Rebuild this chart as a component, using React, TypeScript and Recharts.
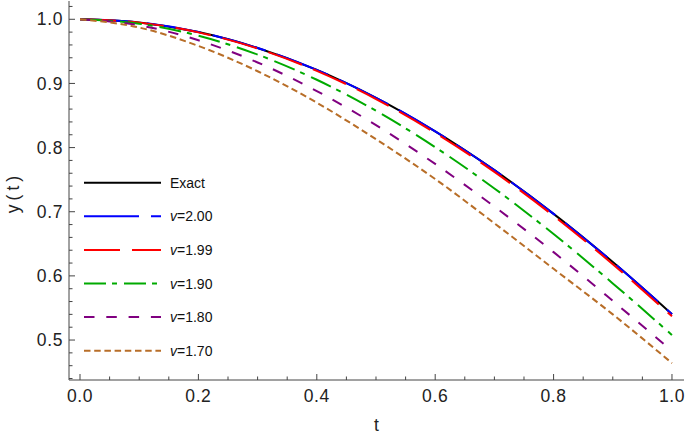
import React from 'react';
import { LineChart, Line, XAxis, YAxis, Legend } from 'recharts';

const tValues = [0, 0.1, 0.2, 0.3, 0.4, 0.5, 0.6, 0.7, 0.8, 0.9, 1.0];
const exactValues = [1, 0.995, 0.9801, 0.9553, 0.9211, 0.8776, 0.8253, 0.7648, 0.6967, 0.6216, 0.5403];
const v200Values = [1, 0.995, 0.9801, 0.9553, 0.9211, 0.8776, 0.8253, 0.7648, 0.6967, 0.6216, 0.5403];
const v199Values = [1, 0.9948, 0.9796, 0.9544, 0.9196, 0.8757, 0.823, 0.7621, 0.6936, 0.6183, 0.5369];
const v190Values = [1, 0.9931, 0.9744, 0.945, 0.9057, 0.8574, 0.8006, 0.7363, 0.6652, 0.5883, 0.5078];
const v180Values = [1, 0.9906, 0.9673, 0.9327, 0.8881, 0.835, 0.7745, 0.708, 0.637, 0.561, 0.483];
const v170Values = [1, 0.9871, 0.9585, 0.919, 0.87, 0.813, 0.751, 0.682, 0.611, 0.54, 0.464];

const seriesKeys = ['exact', 'v200', 'v199', 'v190', 'v180', 'v170'];
const seriesLabels = ['Exact', '2.00', '1.99', '1.90', '1.80', '1.70'];
const seriesColors = ['#000000', '#0000ff', '#ff0000', '#00aa00', '#800080', '#b86e28'];
const seriesDashes = ['', '55 12', '36 12', '22 6 5 7', '10.5 11.8', '6.5 3.7'];

const xTicks = [0, 0.05, 0.1, 0.15, 0.2, 0.25, 0.3, 0.35, 0.4, 0.45, 0.5, 0.55, 0.6, 0.65, 0.7, 0.75, 0.8, 0.85, 0.9, 0.95, 1.0];
const yTicks = [0.44, 0.46, 0.48, 0.5, 0.52, 0.54, 0.56, 0.58, 0.6, 0.62, 0.64, 0.66, 0.68, 0.7, 0.72, 0.74, 0.76, 0.78, 0.8, 0.82, 0.84, 0.86, 0.88, 0.9, 0.92, 0.94, 0.96, 0.98, 1.0, 1.02];

const data = tValues.map((t, i) => ({
  t,
  exact: exactValues[i],
  v200: v200Values[i],
  v199: v199Values[i],
  v190: v190Values[i],
  v180: v180Values[i],
  v170: v170Values[i],
}));

const FONT = '"Liberation Sans", Arial, sans-serif';
const FRAME = '#444444';
const LABEL = '#222222';

const isMajor = (v: number, step: number) => Math.abs(v / step - Math.round(v / step)) < 1e-6;

const BottomTick = (props: any) => {
  const { x, y, payload } = props;
  const v = payload.value;
  const major = isMajor(v, 0.2);
  return (
    <g>
      <line x1={x} x2={x} y1={y} y2={y - (major ? 6 : 3.5)} stroke={FRAME} strokeWidth={1} />
      {major && (
        <text x={x} y={y + 21.5} textAnchor="middle" fontFamily={FONT} fontSize={17.5} letterSpacing={0.6} fill={LABEL}>
          {v.toFixed(1)}
        </text>
      )}
    </g>
  );
};

const TopTick = (props: any) => {
  const { x, y, payload } = props;
  const major = isMajor(payload.value, 0.2);
  return <line x1={x} x2={x} y1={y} y2={y + (major ? 6 : 3.5)} stroke={FRAME} strokeWidth={1} />;
};

const LeftTick = (props: any) => {
  const { x, y, payload } = props;
  const v = payload.value;
  const major = isMajor(v, 0.1);
  return (
    <g>
      <line x1={x} x2={x + (major ? 6 : 3.5)} y1={y} y2={y} stroke={FRAME} strokeWidth={1} />
      {major && (
        <text x={x - 6} y={y + 6.2} textAnchor="end" fontFamily={FONT} fontSize={17.5} letterSpacing={0.6} fill={LABEL}>
          {v.toFixed(1)}
        </text>
      )}
    </g>
  );
};

const RightTick = (props: any) => {
  const { x, y, payload } = props;
  const major = isMajor(payload.value, 0.1);
  return <line x1={x} x2={x - (major ? 6 : 3.5)} y1={y} y2={y} stroke={FRAME} strokeWidth={1} />;
};

const LegendContent = () => (
  <svg width={685} height={437} style={{ position: 'absolute', left: 0, top: 0, overflow: 'visible' }}>
    {seriesKeys.map((k, i) => {
      const cy = 182.7 + i * 33.6;
      return (
        <g key={k}>
          <line
            x1={84}
            x2={161}
            y1={cy}
            y2={cy}
            stroke={seriesColors[i]}
            strokeWidth={2}
            strokeDasharray={seriesDashes[i] || undefined}
          />
          <text x={170} y={cy + 5} fontFamily={FONT} fontSize={14} fill="#111">
            {i === 0 ? (
              seriesLabels[i]
            ) : (
              <>
                <tspan fontStyle="italic">v</tspan>={seriesLabels[i]}
              </>
            )}
          </text>
        </g>
      );
    })}
  </svg>
);

export default function App() {
  return (
    <div style={{ position: 'absolute', left: 0, top: 0, width: 685, height: 437, background: '#fff' }}>
      <LineChart width={685} height={437} data={data} margin={{ top: 1, right: 1, bottom: 0, left: 0 }}>
        <XAxis
          xAxisId="bottom"
          dataKey="t"
          type="number"
          domain={[-0.0186, 1.0203]}
          allowDataOverflow
          ticks={xTicks}
          interval={0}
          tickSize={0}
          tickMargin={0}
          tickLine={false}
          axisLine={{ stroke: FRAME, strokeWidth: 1 }}
          tick={<BottomTick />}
          height={57}
          label={{
            content: (p: any) => {
              const vb = p.viewBox || {};
              return (
                <text x={vb.x + vb.width / 2} y={vb.y + 51} textAnchor="middle" fontFamily={FONT} fontSize={17.5} fill={LABEL}>
                  t
                </text>
              );
            },
          }}
        />
        <XAxis
          xAxisId="top"
          orientation="top"
          dataKey="t"
          type="number"
          domain={[-0.0186, 1.0203]}
          allowDataOverflow
          ticks={xTicks}
          interval={0}
          tickSize={0}
          tickMargin={0}
          tickLine={false}
          axisLine={{ stroke: FRAME, strokeWidth: 1 }}
          tick={<TopTick />}
          height={0}
        />
        <YAxis
          yAxisId="left"
          type="number"
          domain={[0.4377, 1.0285]}
          allowDataOverflow
          ticks={yTicks}
          interval={0}
          tickSize={0}
          tickMargin={0}
          tickLine={false}
          axisLine={{ stroke: FRAME, strokeWidth: 1 }}
          tick={<LeftTick />}
          width={69}
          label={{
            content: (p: any) => {
              const vb = p.viewBox || {};
              const cx = 13;
              const cy = vb.y + vb.height / 2 + 2;
              return (
                <text
                  x={cx}
                  y={cy}
                  transform={`rotate(-90 ${cx} ${cy})`}
                  textAnchor="middle"
                  dominantBaseline="central"
                  fontFamily={FONT}
                  fontSize={17.5}
                  letterSpacing={4}
                  fill={LABEL}
                >
                  y(t)
                </text>
              );
            },
          }}
        />
        <YAxis
          yAxisId="right"
          orientation="right"
          type="number"
          domain={[0.4377, 1.0285]}
          allowDataOverflow
          ticks={yTicks}
          interval={0}
          tickSize={0}
          tickMargin={0}
          tickLine={false}
          axisLine={{ stroke: FRAME, strokeWidth: 1 }}
          tick={<RightTick />}
          width={0}
        />
        {seriesKeys.map((k, i) => (
          <Line
            key={k}
            xAxisId="bottom"
            yAxisId="left"
            dataKey={k}
            name={seriesLabels[i]}
            type="monotone"
            stroke={seriesColors[i]}
            strokeWidth={2}
            strokeDasharray={seriesDashes[i] || undefined}
            dot={false}
            activeDot={false}
            isAnimationActive={false}
          />
        ))}
        <Legend
          layout="vertical"
          align="center"
          verticalAlign="middle"
          content={<LegendContent />}
          wrapperStyle={{ position: 'absolute', left: 0, top: 0, width: 685, height: 437, pointerEvents: 'none' }}
        />
      </LineChart>
    </div>
  );
}
